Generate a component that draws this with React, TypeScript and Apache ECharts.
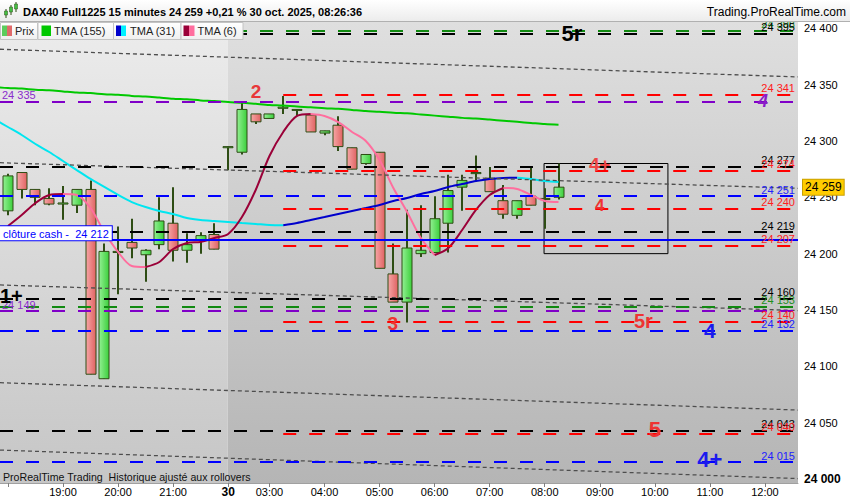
import React, { useEffect, useRef } from "react";
import * as echarts from "echarts";

// ---------- data ----------
// candles: [open, close, low, high], one per 15-minute bar starting at index 0 (18:00)
const candles: number[][] = [
  [24238, 24269, 24234, 24271],
  [24272, 24257, 24249, 24272],
  [24257, 24250, 24243, 24257],
  [24249, 24244, 24243, 24258],
  [24244, 24245, 24230, 24260],
  [24243, 24257, 24236, 24257],
  [24257, 24093, 24093, 24265],
  [24089, 24202, 24089, 24209],
  [24201, 24202, 24164, 24224],
  [24210, 24205, 24196, 24231],
  [24199, 24203, 24175, 24204],
  [24208, 24229, 24204, 24250],
  [24227, 24203, 24193, 24259],
  [24203, 24208, 24192, 24218],
  [24212, 24216, 24200, 24219],
  [24217, 24204, 24204, 24227],
  [24294, 24295, 24274, 24295],
  [24290, 24328, 24288, 24335],
  [24324, 24317, 24315, 24324],
  [24320, 24324, 24320, 24324],
  [24329, 24330, 24324, 24340],
  [24328, 24328, 24322, 24328],
  [24323, 24308, 24308, 24323],
  [24307, 24309, 24305, 24309],
  [24314, 24295, 24291, 24322],
  [24294, 24275, 24275, 24294],
  [24280, 24288, 24279, 24288],
  [24290, 24187, 24187, 24290],
  [24182, 24157, 24157, 24209],
  [24157, 24205, 24139, 24239],
  [24200, 24203, 24197, 24243],
  [24201, 24231, 24201, 24251],
  [24227, 24256, 24201, 24270],
  [24259, 24265, 24238, 24270],
  [24271, 24272, 24264, 24287],
  [24267, 24255, 24255, 24277],
  [24247, 24235, 24231, 24261],
  [24234, 24247, 24231, 24247],
  [24251, 24243, 24243, 24277],
  [24248, 24249, 24222, 24258],
  [24250, 24259, 24248, 24280],
];

// moving averages; tma155 and tma31 start one bar before the first candle (index -1)
const tma155: number[] = [
  24348, 24347, 24346.5, 24345.5, 24345, 24344, 24343, 24342.5, 24341.5, 24341, 24340,
  24339.5, 24338.5, 24337.5, 24337, 24336, 24335.5, 24334.5, 24334, 24333, 24332,
  24331.5, 24330.5, 24330, 24329, 24328.5, 24327.5, 24326.5, 24326, 24325, 24324.5,
  24323.5, 24322.5, 24321.5, 24320.5, 24320, 24319, 24318, 24317, 24316, 24315, 24314.5,
];
const tma31: number[] = [
  24319.5, 24312.4, 24305.3, 24297.3, 24290.2, 24282.2, 24274.2, 24266.3, 24259.2, 24252.1,
  24245.8, 24241.4, 24237.9, 24235.2, 24231.7, 24229.9, 24229.0, 24228.1, 24227.2, 24226.4,
  24225.5, 24225.3, 24227.2, 24229.9, 24232.5, 24235.2, 24237.9, 24240.5, 24243.2, 24246.8,
  24249.4, 24253.0, 24255.6, 24259.2, 24261.8, 24264.5, 24266.3, 24267.2, 24267.4, 24266.3,
  24264.5, 24263.6,
];
const tma6: number[] = [
  24224.5, 24234.3, 24245.0, 24252.1, 24253.0, 24252.1, 24240.5, 24219.2, 24201.5, 24189.0,
  24188.1, 24192.6, 24204.1, 24209.5, 24210.4, 24213.9, 24217.5, 24232.5, 24256.5, 24286.7,
  24308.0, 24322.2, 24323.9, 24322.2, 24316.8, 24308.0, 24300.0, 24283.1, 24258.3, 24237.0,
  24213.9, 24198.8, 24205.0, 24221.0, 24238.8, 24252.1, 24258.3, 24257.4, 24252.1, 24246.8,
  24245.9,
];

// time axis
const tickIndex: number[] = [0, 4, 8, 12, 16, 19, 23, 27, 31, 35, 39, 43, 47, 51, 55];
const tickLabels: string[] = [
  "", "19:00", "20:00", "21:00", "30", "03:00", "04:00", "05:00", "06:00", "07:00",
  "08:00", "09:00", "10:00", "11:00", "12:00",
];
const dayStartIndex = 16;
const sessionLevelsStart = 20;

// price axis
const yTicks: number[] = [24000, 24050, 24100, 24150, 24200, 24250, 24300, 24350, 24400];

// horizontal levels
const blackLevels: number[] = [24395, 24277, 24219, 24160, 24043];
const greenLevels: number[] = [24398, 24153];
const purpleLevels: number[] = [24335, 24149];
const redLevels: number[] = [24341, 24274, 24240, 24207, 24140, 24040];
const blueLevels: number[] = [24251, 24132, 24015];
const cashClose = 24212;
const lastPrice = 24259;

// sloping channel lines: price at left edge / right edge of the plot
const channelStart: number[] = [24381.4, 24280.7, 24172.2, 24085.5, 24025.7];
const channelEnd: number[] = [24356.8, 24258.0, 24149.5, 24061.2, 24000.4];

// annotations
const annTexts: string[] = ["2", "5r", "4", "4+", "4", "3", "5r", "4", "5", "4+", "1+"];
const annIndex: number[] = [18.02, 40.98, 54.85, 43.0, 43.0, 27.96, 46.17, 51.0, 47.0, 51.0, 0.25];
const annPrice: number[] = [24343.7, 24395.6, 24335.7, 24278.7, 24242.5, 24138.4, 24140.2, 24131.5, 24043.9, 24017.3, 24162.6];

// box
const boxIndex: number[] = [38.95, 47.95];
const boxPrice: number[] = [24200, 24280];

// ---------- styles ----------
const FONT = '"Liberation Sans", Arial, Helvetica, sans-serif';
const X_MIN = -0.577;
const X_MAX = 57.4;
const Y_MIN = 23996.45;
const Y_MAX = 24405.59;
const WICK = "#2e4d14";
const annColors = ["#e8383a", "#000000", "#8a1cc8", "#ee4444", "#ee3333", "#ee3333", "#ee3333", "#1a1aee", "#ee3333", "#1a1aee", "#000000"];
const annSizes = [19, 22, 18, 19, 17, 19, 20, 21, 22, 22, 20];

function fmt(v: number): string {
  return String(Math.round(v)).replace(/\B(?=(\d{3})+(?!\d))/g, " ");
}

function splitRuns(vals: number[], start: number) {
  const out: { rising: boolean; pts: number[][] }[] = [];
  let cur: { rising: boolean; pts: number[][] } | null = null;
  for (let k = 1; k < vals.length; k++) {
    const rising = vals[k] >= vals[k - 1];
    if (!cur || cur.rising !== rising) {
      cur = { rising, pts: [[start + k - 1, vals[k - 1]]] };
      out.push(cur);
    }
    cur.pts.push([start + k, vals[k]]);
  }
  return out;
}

export default function App() {
  const ref = useRef<HTMLDivElement>(null);

  useEffect(() => {
    document.body.style.margin = "0";
    const chart = echarts.init(ref.current as HTMLDivElement, null, { renderer: "svg" });

    const upGrad = new echarts.graphic.LinearGradient(0, 0, 1, 0, [
      { offset: 0, color: "#93f093" },
      { offset: 1, color: "#3ccf3c" },
    ]);
    const downGrad = new echarts.graphic.LinearGradient(0, 0, 1, 0, [
      { offset: 0, color: "#f6a6a6" },
      { offset: 1, color: "#e06262" },
    ]);

    const dashed = (color: string) => ({ color, width: 2, type: [13, 13] as number[] });
    const rightLabel = (text: string, color: string) => ({
      show: true,
      position: "insideEndTop",
      formatter: text,
      color,
      fontSize: 11,
      fontFamily: FONT,
      distance: [3, 1],
    });
    const leftLabel = (text: string, color: string) => ({
      show: true,
      position: "insideStartTop",
      formatter: text,
      color,
      fontSize: 11,
      fontFamily: FONT,
      distance: [2, 1],
    });

    const markLines: any[] = [];
    channelStart.forEach((s, k) => {
      markLines.push([
        { coord: [X_MIN, s], lineStyle: { color: "#4d4d4d", width: 1.3, type: [4, 3] }, label: { show: false } },
        { coord: [X_MAX, channelEnd[k]] },
      ]);
    });
    greenLevels.forEach((p) => markLines.push({ yAxis: p, lineStyle: dashed("#118a11"), label: rightLabel(fmt(p), "#1f8f1f") }));
    purpleLevels.forEach((p) => markLines.push({ yAxis: p, lineStyle: dashed("#8000c8"), label: leftLabel(fmt(p), "#8a2ccc") }));
    blackLevels.forEach((p) => markLines.push({ yAxis: p, lineStyle: dashed("#000000"), label: rightLabel(fmt(p), "#000000") }));
    blueLevels.forEach((p) => markLines.push({ yAxis: p, lineStyle: dashed("#0000ff"), label: rightLabel(fmt(p), "#2222ff") }));
    redLevels.forEach((p) =>
      markLines.push([
        { coord: [sessionLevelsStart, p], lineStyle: dashed("#ff0000"), label: rightLabel(fmt(p), "#ff2020") },
        { coord: [X_MAX, p] },
      ])
    );
    markLines.push({
      yAxis: cashClose,
      lineStyle: { color: "#0000ff", width: 2, type: "solid" },
      label: {
        show: true,
        position: "insideStartTop",
        formatter: "clôture cash -  " + fmt(cashClose),
        color: "#0000ff",
        fontSize: 11,
        fontFamily: FONT,
        backgroundColor: "#ffffff",
        borderColor: "#0000ff",
        borderWidth: 1,
        padding: [2, 3, 1, 3],
        distance: [0, 0],
      },
    });
    markLines.push({
      yAxis: lastPrice,
      lineStyle: { color: "rgba(0,0,0,0)", width: 1 },
      label: {
        show: true,
        position: "end",
        formatter: fmt(lastPrice),
        color: "#000",
        fontSize: 12,
        fontFamily: FONT,
        backgroundColor: "#ffcc00",
        borderColor: "#c9a000",
        borderWidth: 1,
        padding: [2, 2, 1, 2],
        distance: 5,
      },
    });

    const maSeries: any[] = [];
    maSeries.push({
      type: "line",
      data: tma155.map((v, k) => [k - 1, v]),
      showSymbol: false,
      smooth: 0.3,
      lineStyle: { color: "#00c800", width: 2 },
      clip: true,
      silent: true,
      z: 3,
    });
    splitRuns(tma31, -1).forEach((r) =>
      maSeries.push({
        type: "line",
        data: r.pts,
        showSymbol: false,
        smooth: 0.3,
        lineStyle: { color: r.rising ? "#0000cc" : "#00e6f0", width: 2 },
        clip: true,
        silent: true,
        z: 3,
      })
    );
    splitRuns(tma6, 0).forEach((r) =>
      maSeries.push({
        type: "line",
        data: r.pts,
        showSymbol: false,
        smooth: 0.3,
        lineStyle: { color: r.rising ? "#9a0038" : "#ff6e9e", width: 2 },
        clip: true,
        silent: true,
        z: 3,
      })
    );

    const legendBoxes = [
      { x: 0, w: 37 },
      { x: 37.5, w: 75.5 },
      { x: 113, w: 67.5 },
      { x: 180.5, w: 62 },
    ];
    const boxGrad = new echarts.graphic.LinearGradient(0, 0, 0, 1, [
      { offset: 0, color: "#ffffff" },
      { offset: 1, color: "#efefef" },
    ]);
    const graphics: any[] = [
      {
        type: "rect",
        z: 100,
        shape: { x: 0, y: 0, width: 850, height: 21 },
        style: {
          fill: new echarts.graphic.LinearGradient(0, 0, 0, 1, [
            { offset: 0, color: "#ffffff" },
            { offset: 1, color: "#ececec" },
          ]),
        },
      },
      { type: "line", z: 100, shape: { x1: 0, y1: 21.5, x2: 850, y2: 21.5 }, style: { stroke: "#b0b0b0", lineWidth: 1 } },
      // title icon
      { type: "line", z: 101, shape: { x1: 6, y1: 9, x2: 6, y2: 18 }, style: { stroke: WICK, lineWidth: 1 } },
      { type: "rect", z: 102, shape: { x: 4.5, y: 11, width: 3, height: 4 }, style: { fill: "#44c044", stroke: WICK, lineWidth: 0.5 } },
      { type: "line", z: 101, shape: { x1: 11, y1: 5, x2: 11, y2: 15 }, style: { stroke: WICK, lineWidth: 1 } },
      { type: "rect", z: 102, shape: { x: 9.5, y: 7, width: 3, height: 5 }, style: { fill: "#44c044", stroke: WICK, lineWidth: 0.5 } },
      { type: "line", z: 101, shape: { x1: 16, y1: 2, x2: 16, y2: 12 }, style: { stroke: WICK, lineWidth: 1 } },
      { type: "rect", z: 102, shape: { x: 14.5, y: 4, width: 3, height: 5 }, style: { fill: "#44c044", stroke: WICK, lineWidth: 0.5 } },
      {
        type: "text",
        z: 101,
        x: 23,
        y: 12,
        style: {
          text: "DAX40 Full1225 15 minutes 24 259 +0,21 % 30 oct. 2025, 08:26:36",
          fill: "#000",
          font: "bold 11px " + FONT,
          verticalAlign: "middle",
        },
      },
      {
        type: "text",
        z: 101,
        x: 846,
        y: 12,
        style: { text: "Trading.ProRealTime.com", fill: "#000", font: "12px " + FONT, align: "right", verticalAlign: "middle" },
      },
      {
        type: "text",
        z: 101,
        x: 3,
        y: 477,
        style: { text: "ProRealTime Trading  Historique ajusté aux rollovers", fill: "#111", font: "10.6px " + FONT, verticalAlign: "middle" },
      },
    ];
    legendBoxes.forEach((b) =>
      graphics.push({
        type: "rect",
        z: 100,
        shape: { x: b.x + 0.5, y: 22.5, width: b.w, height: 17 },
        style: { fill: boxGrad, stroke: "#c4c4c4", lineWidth: 1 },
      })
    );
    const icon = (x: number, w: number, color: string) => ({
      type: "rect",
      z: 101,
      shape: { x, y: 25.5, width: w, height: 10.5 },
      style: { fill: color },
    });
    graphics.push(icon(2, 5, "#5ccc5c"), icon(7, 5, "#e06a6a"));
    graphics.push(icon(41.5, 9.5, "#00c800"));
    graphics.push(icon(116, 5, "#0000cc"), icon(121, 5, "#00f0ff"));
    graphics.push(icon(183.5, 5.5, "#9a0038"), icon(189, 5.5, "#ff6e9e"));
    const legText = (x: number, t: string) => ({
      type: "text",
      z: 101,
      x,
      y: 31,
      style: { text: t, fill: "#222", font: "11px " + FONT, verticalAlign: "middle" },
    });
    graphics.push(legText(15, "Prix"), legText(54, "TMA (155)"), legText(130, "TMA (31)"), legText(197.5, "TMA (6)"));

    const option: any = {
      animation: false,
      textStyle: { fontFamily: FONT },
      grid: { left: 0, right: 52, top: 22, bottom: 17, containLabel: false },
      xAxis: {
        type: "value",
        min: X_MIN,
        max: X_MAX,
        splitLine: { show: false },
        axisLine: { lineStyle: { color: "#a0a0a0" } },
        axisTick: { customValues: tickIndex, length: 4, lineStyle: { color: "#808080" } },
        axisLabel: {
          customValues: tickIndex,
          margin: 3,
          color: "#000",
          fontSize: 11,
          fontFamily: FONT,
          formatter: (v: number) => {
            const k = tickIndex.indexOf(Math.round(v));
            if (k < 0) return "";
            return Math.round(v) === dayStartIndex ? "{b|" + tickLabels[k] + "}" : tickLabels[k];
          },
          rich: { b: { fontWeight: "bold", fontSize: 12, fontFamily: FONT, color: "#000" } },
        },
      },
      yAxis: {
        type: "value",
        position: "right",
        min: Y_MIN,
        max: Y_MAX,
        splitLine: { show: false },
        axisLine: { show: true, lineStyle: { color: "#a0a0a0" } },
        axisTick: { show: true, customValues: yTicks, length: 4, lineStyle: { color: "#808080" } },
        axisLabel: {
          customValues: yTicks,
          margin: 6,
          color: "#000",
          fontSize: 11,
          fontFamily: FONT,
          formatter: (v: number) => (v === yTicks[0] ? "{b|" + fmt(v) + "}" : fmt(v)),
          rich: { b: { fontWeight: "bold", fontSize: 12, fontFamily: FONT, color: "#000" } },
        },
      },
      graphic: graphics,
      series: [
        {
          type: "line",
          data: [],
          silent: true,
          z: 0,
          markArea: {
            silent: true,
            data: [
              [
                {
                  xAxis: X_MIN,
                  yAxis: Y_MAX,
                  itemStyle: {
                    color: new echarts.graphic.LinearGradient(0, 0, 0, 1, [
                      { offset: 0, color: "#ececec" },
                      { offset: 1, color: "#c6c6c6" },
                    ]),
                  },
                },
                { xAxis: dayStartIndex - 0.03, yAxis: Y_MIN },
              ],
              [
                {
                  xAxis: dayStartIndex - 0.03,
                  yAxis: Y_MAX,
                  itemStyle: {
                    color: new echarts.graphic.LinearGradient(0, 0, 0, 1, [
                      { offset: 0, color: "#dfdfdf" },
                      { offset: 1, color: "#b5b5b5" },
                    ]),
                  },
                },
                { xAxis: X_MAX, yAxis: Y_MIN },
              ],
              [
                {
                  xAxis: boxIndex[0],
                  yAxis: boxPrice[1],
                  itemStyle: { color: "rgba(0,0,0,0)", borderColor: "#000", borderWidth: 1 },
                },
                { xAxis: boxIndex[1], yAxis: boxPrice[0] },
              ],
            ],
          },
        },
        {
          type: "custom",
          data: candles.map((c, i) => [i, c[0], c[1], c[2], c[3]]),
          encode: { x: 0, y: [1, 2, 3, 4] },
          clip: true,
          silent: true,
          z: 2,
          renderItem: (params: any, api: any) => {
            const i = api.value(0);
            const o = api.value(1);
            const c = api.value(2);
            const l = api.value(3);
            const h = api.value(4);
            const pO = api.coord([i, o]);
            const pC = api.coord([i, c]);
            const pL = api.coord([i, l]);
            const pH = api.coord([i, h]);
            const x = Math.round(pO[0]);
            const up = c >= o;
            const top = Math.min(pO[1], pC[1]);
            const bot = Math.max(pO[1], pC[1]);
            const hw = 5;
            return {
              type: "group",
              children: [
                { type: "line", shape: { x1: x, y1: pH[1], x2: x, y2: pL[1] }, style: { stroke: WICK, lineWidth: 2 } },
                {
                  type: "rect",
                  shape: { x: x - hw, y: top, width: hw * 2, height: Math.max(bot - top, 1) },
                  style: { fill: up ? upGrad : downGrad, stroke: WICK, lineWidth: 1 },
                },
              ],
            };
          },
          markLine: {
            silent: true,
            symbol: ["none", "none"],
            label: { show: false },
            data: markLines,
          },
        },
        ...maSeries,
        {
          type: "scatter",
          silent: true,
          z: 6,
          symbolSize: 1,
          itemStyle: { color: "rgba(0,0,0,0)", opacity: 1 },
          data: annTexts.map((t, k) => ({
            value: [annIndex[k], annPrice[k]],
            label: {
              show: true,
              position: "inside",
              formatter: t,
              color: annColors[k],
              opacity: 1,
              fontSize: annSizes[k],
              fontWeight: "bold",
              fontStyle: k === 2 ? "italic" : "normal",
              fontFamily: FONT,
              textBorderWidth: 0,
            },
          })),
        },
      ],
    };

    chart.setOption(option);
    return () => chart.dispose();
  }, []);

  return <div ref={ref} style={{ width: 850, height: 500 }} />;
}
